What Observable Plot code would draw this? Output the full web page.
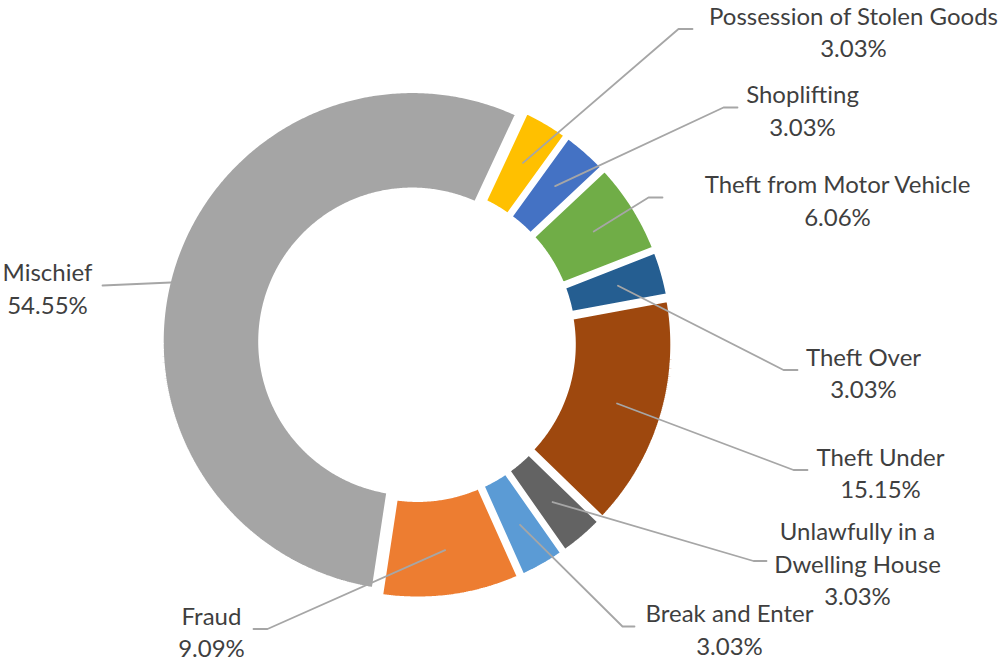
<!DOCTYPE html>
<html><head><meta charset="utf-8">
<script src="https://cdn.jsdelivr.net/npm/d3@7"></script>
<script src="https://cdn.jsdelivr.net/npm/@observablehq/plot@0.6"></script>
<style>html,body{margin:0;padding:0;background:#fff;overflow:hidden}#chart svg{display:block}</style>
</head><body><div id="chart"></div>
<script>
// ---- data ----
const categories = ["Break and Enter","Fraud","Mischief","Possession of Stolen Goods","Shoplifting","Theft from Motor Vehicle","Theft Over","Theft Under","Unlawfully in a Dwelling House"];
const percents = [3.03, 9.09, 54.55, 3.03, 3.03, 6.06, 3.03, 15.15, 3.03];
const labelText = ["Break and Enter","Fraud","Mischief","Possession of Stolen Goods","Shoplifting","Theft from Motor Vehicle","Theft Over","Theft Under","Unlawfully in a\nDwelling House"];
const sliceColors = ["#5B9BD5","#ED7D31","#A5A5A5","#FFC000","#4472C4","#70AD47","#255E91","#9E480E","#636363"];

// ---- layout (pixel space) ----
const W = 1000, H = 662;
const CX = 416.5, CY = 342.5, R_OUT = 251.5, R_IN = 151, EXPLODE = 5, GAP = 6, START_ANGLE = 145;
const R_LEADER = 204;
const FONT = 24, LINE = 32.5;
const labelLayout = [
  {x: 729, y: 627.5, elbowX: 622, endX: 634},
  {x: 211, y: 630,   elbowX: 267, endX: 253},
  {x: 47,  y: 286.5, elbowX: null, endX: 102},
  {x: 853, y: 30,    elbowX: 678, endX: 692},
  {x: 802, y: 108.5, elbowX: 723, endX: 737},
  {x: 837, y: 198.5, elbowX: 648, endX: 662},
  {x: 863, y: 371,   elbowX: 783, endX: 797},
  {x: 880, y: 471,   elbowX: 793, endX: 807},
  {x: 857, y: 562,   elbowX: 753, endX: 766}
];

const rad = a => a * Math.PI / 180;
const total = d3.sum(percents);
let acc = START_ANGLE;
const slices = categories.map((c, i) => {
  const a0 = acc, a1 = acc + percents[i] / total * 360; acc = a1;
  const mid = (a0 + a1) / 2;
  return {c, i, a0, a1, mid, ox: CX + EXPLODE * Math.sin(rad(mid)), oy: CY - EXPLODE * Math.cos(rad(mid))};
});

const polyPts = [];
for (const s of slices) {
  const n = Math.max(8, Math.ceil((s.a1 - s.a0) / 0.5));
  for (let k = 0; k <= n; k++) {
    const a = rad(s.a0 + (s.a1 - s.a0) * k / n);
    polyPts.push({cat: s.c, x: s.ox + R_OUT * Math.sin(a), y: s.oy - R_OUT * Math.cos(a)});
  }
  for (let k = n; k >= 0; k--) {
    const a = rad(s.a0 + (s.a1 - s.a0) * k / n);
    polyPts.push({cat: s.c, x: s.ox + R_IN * Math.sin(a), y: s.oy - R_IN * Math.cos(a)});
  }
}

const leaderPts = [];
const labels = [];
slices.forEach((s, i) => {
  const L = labelLayout[i];
  const endY = L.y - 1.5;
  let start;
  if (L.elbowX == null) {
    const r = R_OUT - GAP / 2, yy = endY - 3;
    start = [s.ox - Math.sqrt(r * r - (yy - s.oy) ** 2), yy];
  } else {
    start = [s.ox + R_LEADER * Math.sin(rad(s.mid)), s.oy - R_LEADER * Math.cos(rad(s.mid))];
  }
  leaderPts.push({cat: s.c, x: start[0], y: start[1]});
  if (L.elbowX != null) leaderPts.push({cat: s.c, x: L.elbowX, y: endY});
  leaderPts.push({cat: s.c, x: L.endX, y: endY});
  labels.push({cat: s.c, x: L.x, y: L.y, text: labelText[i] + "\n" + percents[i].toFixed(2) + "%"});
});

const chart = Plot.plot({
  width: W, height: H,
  margin: 0,
  x: {domain: [0, W], range: [0, W], axis: null},
  y: {domain: [0, H], range: [0, H], axis: null},
  color: {domain: categories, range: sliceColors},
  style: {background: "#fff"},
  marks: [
    Plot.line(polyPts, {x: "x", y: "y", z: "cat", fill: "cat", stroke: "white", strokeWidth: GAP, curve: "linear-closed", strokeLinejoin: "miter"}),
    Plot.line(leaderPts, {x: "x", y: "y", z: "cat", stroke: "#A6A6A6", strokeWidth: 1.8}),
    Plot.text(labels, {x: "x", y: "y", text: "text", fill: "#3f3f3f", fontSize: FONT, fontFamily: "Lato", lineHeight: LINE / FONT, textAnchor: "middle"})
  ]
});
document.getElementById("chart").appendChild(chart);
</script>
</body></html>
